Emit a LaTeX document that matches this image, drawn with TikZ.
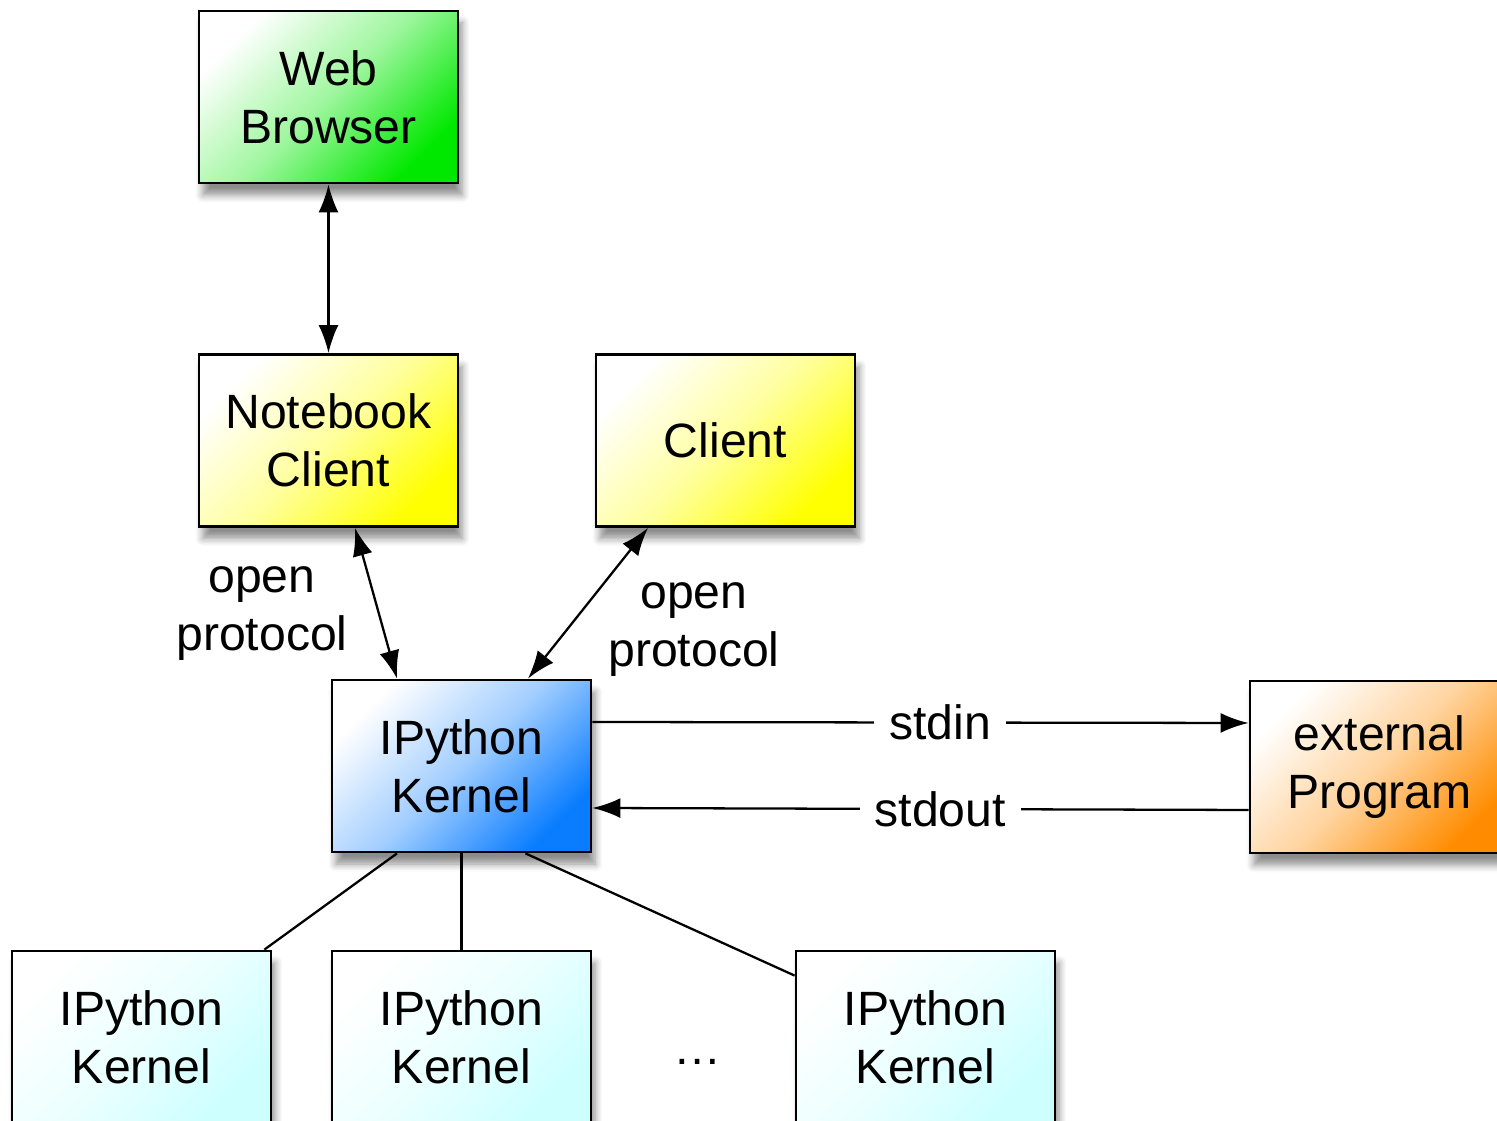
\documentclass[tikz,border=0pt]{standalone}
\usepackage{fontspec}
\setmainfont{Liberation Sans}
\usepackage{xcolor}
\usetikzlibrary{arrows.meta, calc, shadows.blur}
\definecolor{webgreen}{RGB}{0,232,0}
\definecolor{clientyellow}{RGB}{255,255,0}
\definecolor{kernelblue}{RGB}{10,125,255}
\definecolor{extorange}{RGB}{255,140,0}
\definecolor{kernelcyan}{RGB}{205,255,255}
\tikzset{
    box/.style={draw, line width=0.8pt, minimum width=2.59cm, minimum height=1.72cm, inner sep=0pt, align=center,
        blur shadow={shadow xshift=0.4mm, shadow yshift=-1.2mm, shadow blur steps=6, shadow opacity=45}},
    line/.style={line width=0.65pt},
    link/.style={line, {Latex[length=2.8mm,width=2mm]}-{Latex[length=2.8mm,width=2mm]}},
    pipe/.style={line, -{Latex[length=2.8mm,width=2mm]}},
    lbl/.style={fill=white, inner sep=0.15cm, align=center}
}
\newcommand{\compbox}[4]{
    \node[box, top color=white, bottom color=#4, middle color=#4!38!white, shading angle=45] (#1) at (#2) {#3};
}

\begin{document}
\begin{tikzpicture}[font=\fontsize{13.7}{16.5}\selectfont]
                        \useasboundingbox (0,0) rectangle (14.97,-11.21);
                        \compbox{web}{3.285,-0.97}{Web\\Browser}{webgreen}
                        \compbox{nb}{3.285,-4.405}{Notebook\\Client}{clientyellow}
                        \compbox{cl}{7.255,-4.405}{Client}{clientyellow}
                        \compbox{k}{4.615,-7.66}{IPython\\Kernel}{kernelblue}
                        \compbox{ext}{13.795,-7.67}{external\\Program}{extorange}
                        \compbox{ka}{1.415,-10.37}{IPython\\Kernel}{kernelcyan}
                        \compbox{kb}{4.615,-10.37}{IPython\\Kernel}{kernelcyan}
                        \compbox{kc}{9.255,-10.37}{IPython\\Kernel}{kernelcyan}
                        \node (dots) at (6.98,-10.62) {\dots};
                        \node[align=center] (op1) at (2.62,-6.14) {open\\protocol};
                        \node[align=center] (op2) at (6.94,-6.30) {open\\protocol};
                        \draw[link] (web.south) -- (nb.north);
                        \draw[link] ([xshift=0.265cm]nb.south) -- ([xshift=-0.645cm]k.north);
                        \draw[link] ([xshift=-0.775cm]cl.south) -- ([xshift=0.665cm]k.north);
                        \draw[pipe] ([yshift=0.44cm]k.east) -- node[lbl, pos=0.53]{stdin} ([yshift=0.44cm]ext.west);
                        \draw[pipe] ([yshift=-0.43cm]ext.west) -- node[lbl, pos=0.47]{stdout} ([yshift=-0.42cm]k.east);
                        \draw[line]
                        ([xshift=-0.645cm]k.south) edge ([xshift=-0.08cm]ka.north east)
                        (k.south) edge (kb.north)
                        ([xshift=0.64cm]k.south) edge ([yshift=-0.26cm]kc.north west);
                    \end{tikzpicture}
\end{document}
